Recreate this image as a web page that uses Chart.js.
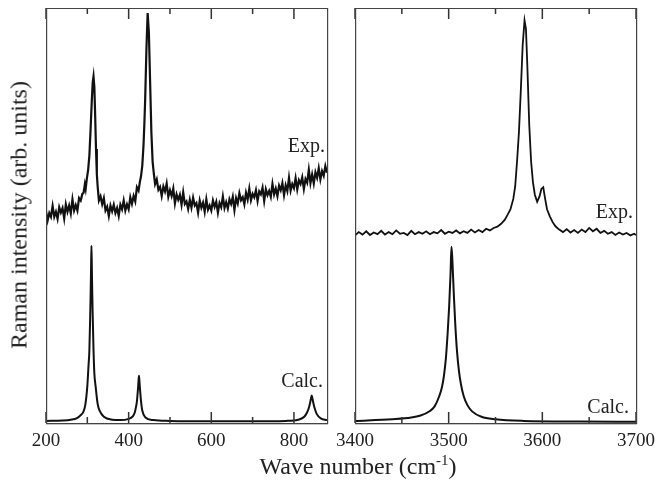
<!DOCTYPE html>
<html>
<head>
<meta charset="utf-8">
<script src="https://cdn.jsdelivr.net/npm/chart.js@4"></script>
<style>
  body { margin: 0; background: #fff; overflow: hidden; }
  #wrap { position: relative; width: 657px; height: 488px; font-family: "Liberation Serif", serif; color: #222; }
  #lowCanvas { position: absolute; left: 0; top: 0; }
  #highCanvas { position: absolute; left: 335px; top: 0; }
  #ytitle { position: absolute; left: 19px; top: 215px; transform: translate(-50%, -50%) rotate(-90deg); white-space: nowrap; font-size: 24px; }
  #xtitle { position: absolute; left: 358px; top: 466px; transform: translate(-50%, -50%); white-space: nowrap; font-size: 24px; }
  #xtitle sup { font-size: 15px; vertical-align: 9px; line-height: 0; }
</style>
</head>
<body>
<div id="wrap">
  <canvas id="lowCanvas" width="335" height="488"></canvas>
  <canvas id="highCanvas" width="322" height="488"></canvas>
  <div id="ytitle">Raman intensity (arb. units)</div>
  <div id="xtitle">Wave number (cm<sup>-1</sup>)</div>
</div>
<script>
// low-frequency panel
const lowMajorTicks = [200, 400, 600, 800];
const lowMinorTicks = [300, 500, 700];

const expLowWn = [
  200, 204, 208, 212, 216, 220, 224, 228, 232, 236, 240, 244, 248, 252, 256, 260, 264, 268, 272, 276, 280, 284, 288,
  291, 294, 296, 299, 302, 305, 308, 311, 313, 315, 317, 319, 321, 323, 325,
  328, 332, 336, 340, 344, 348, 352, 356, 360, 364, 368, 372, 376, 380, 384, 388, 392, 396, 400, 404, 408, 412, 416, 420, 424,
  427, 430, 433, 436, 438, 440, 443, 446, 449, 452, 455, 458, 461, 464,
  468, 472, 476, 480, 484, 488, 492, 496, 500, 504, 508, 512, 516, 520, 524, 528, 532, 536, 540, 544, 548, 552, 556, 560,
  564, 568, 572, 576, 580, 584, 588, 592, 596, 600, 604, 608, 612, 616, 620, 624, 628, 632, 636, 640, 644, 648, 652, 656,
  660, 664, 668, 672, 676, 680, 684, 688, 692, 696, 700, 704, 708, 712, 716, 720, 724, 728, 732, 736, 740, 744, 748, 752,
  756, 760, 764, 768, 772, 776, 780, 784, 788, 792, 796, 800, 804, 808, 812, 816, 820, 824, 828, 832, 836, 840, 844, 848,
  852, 856, 860, 864, 868, 872, 876, 880];
const expLowInt = [
  51.0, 48.8, 50.6, 49.7, 52.3, 49.7, 50.9, 49.2, 52.0, 50.7, 51.8, 49.3, 52.7, 50.9, 52.4, 50.5, 53.9, 51.2, 52.5, 51.2, 54.2, 53.6, 55.2,
  55.5, 57.5, 56.4, 59.0, 61.0, 64.5, 71.0, 78.0, 82.0, 83.5, 81.0, 74.0, 66.0, 60.0, 57.0,
  53.6, 54.6, 52.7, 54.2, 51.2, 52.1, 49.9, 52.4, 51.0, 52.6, 50.6, 51.8, 49.9, 52.6, 51.5, 53.6, 51.2, 52.7, 51.5, 54.4, 52.8, 54.7, 53.4, 56.8, 56.0,
  58.0, 59.5, 62.0, 67.0, 72.0, 78.0, 90.0, 98.8, 94.0, 82.0, 70.0, 63.0, 60.0, 57.6,
  58.7, 56.2, 56.9, 54.7, 57.0, 55.8, 57.7, 54.5, 56.1, 54.7, 56.5, 52.9, 55.1, 53.8, 55.0, 52.6, 55.6, 52.8, 53.4, 51.6, 53.8, 51.9, 54.3, 52.4,
  53.0, 50.7, 53.6, 51.9, 53.1, 50.9, 53.9, 51.4, 52.4, 51.2, 53.6, 52.1, 53.3, 50.7, 53.0, 52.0, 54.6, 51.8, 53.2, 51.7, 53.9, 52.8, 54.5, 51.3,
  54.2, 52.9, 55.4, 53.7, 54.4, 52.7, 55.5, 53.9, 56.5, 53.7, 55.2, 54.4, 56.1, 53.5, 55.8, 55.1, 56.7, 53.5, 56.3, 54.9, 55.9, 54.5, 57.6, 55.1,
  56.5, 54.7, 57.2, 56.1, 57.8, 54.9, 57.3, 55.9, 59.1, 56.0, 57.6, 56.6, 59.0, 56.3, 58.5, 57.6, 59.2, 56.4, 58.8, 57.9, 61.0, 57.8, 59.9, 57.7,
  60.4, 59.1, 61.4, 58.7, 60.7, 59.6, 61.9, 60.3];

const calcLowWn = [200, 240, 260, 275, 285, 290, 295, 300, 303, 305, 307, 308, 309, 310, 311, 312, 313, 315, 317, 320, 325, 330, 340, 360, 380,
  400, 410, 415, 418, 420, 422, 423, 424, 425, 426, 427, 428, 430, 433, 440, 460, 500, 600, 700, 780, 810, 825, 832, 836, 839, 841, 843,
  845, 847, 850, 855, 865, 880];
const calcLowInt = [0.5, 0.6, 0.8, 1.2, 2.0, 2.6, 4.3, 8.9, 14.0, 17.6, 26.0, 31.0, 37.0, 42.7, 37.0, 31.0, 26.0, 17.6, 12.0, 8.9, 4.6, 2.9, 1.5, 0.8, 0.7,
  1.0, 1.6, 2.6, 4.0, 5.2, 7.5, 8.8, 10.3, 11.4, 10.3, 8.8, 7.5, 5.2, 3.0, 1.4, 0.7, 0.5, 0.4, 0.4, 0.5, 0.8, 1.5, 2.6, 3.6, 4.8, 5.8, 6.6,
  5.8, 4.8, 3.6, 2.2, 1.1, 0.7];

// O-H stretch panel
const highMajorTicks = [3400, 3500, 3600, 3700];
const highMinorTicks = [3450, 3550, 3650];

const expHighWn = [3400, 3404, 3408, 3412, 3416, 3420, 3424, 3428, 3432, 3436, 3440, 3444, 3448, 3452, 3456, 3460, 3464, 3468, 3472, 3476,
  3480, 3484, 3488, 3492, 3496, 3500, 3504, 3508, 3512, 3516, 3520, 3524, 3528, 3532, 3536, 3540, 3544, 3548, 3552, 3556, 3560, 3563,
  3566, 3569, 3571, 3573, 3575, 3577, 3579, 3581, 3582.5, 3584, 3586, 3588, 3590, 3592, 3594.5, 3597, 3599, 3601, 3603, 3605, 3608,
  3611, 3614, 3618, 3622, 3626, 3630, 3634, 3638, 3642, 3646, 3650, 3654, 3658, 3662, 3666, 3670, 3674, 3678, 3682, 3686, 3690, 3694,
  3698, 3700];
const expHighInt = [45.2, 46.0, 45.4, 46.2, 45.3, 45.9, 45.5, 46.3, 45.4, 46.0, 45.5, 46.4, 45.6, 45.8, 45.3, 46.3, 45.5, 46.0, 45.6, 46.2,
  45.5, 46.0, 45.7, 46.5, 45.6, 46.1, 45.8, 46.4, 45.7, 46.2, 45.8, 46.6, 45.9, 46.5, 46.0, 46.8, 46.4, 47.0, 47.3, 48.0, 49.0, 50.2,
  51.5, 54.0, 57.0, 63.0, 70.0, 80.0, 91.0, 97.0, 95.0, 86.0, 72.0, 63.0, 58.0, 55.0, 53.3, 54.6, 56.4, 56.8, 54.0, 51.5, 49.8,
  48.4, 47.4, 46.6, 46.0, 46.7, 45.9, 46.5, 45.8, 46.6, 46.0, 47.0, 46.2, 46.8, 45.8, 46.3, 45.6, 46.0, 45.3, 45.9, 45.4, 45.8, 45.2,
  45.6, 45.3];

const calcHighWn = [3400, 3440, 3460, 3470, 3480, 3485, 3490, 3493, 3495, 3497, 3499, 3500.5, 3502, 3503, 3504, 3505.5, 3507, 3509, 3511,
  3513, 3516, 3520, 3525, 3535, 3550, 3580, 3640, 3700];
const calcHighInt = [0.5, 0.9, 1.3, 1.8, 2.9, 4.0, 6.5, 8.8, 11.5, 15.5, 22.0, 28.0, 36.0, 42.5, 39.0, 31.0, 24.0, 17.0, 12.5,
  9.5, 6.5, 4.3, 2.8, 1.5, 0.9, 0.5, 0.35, 0.3];

const SERIF = '"Liberation Serif", "Times New Roman", serif';

// frame, inward ticks on top and bottom, and the Exp./Calc. tags
function framePlugin(cfg) {
  return {
    id: 'frame',
    afterDraw(chart) {
      const { ctx, chartArea: a, scales } = chart;
      const xs = scales.x;
      const left = Math.round(a.left), right = Math.round(a.right);
      const top = Math.round(a.top), bottom = Math.round(a.bottom);
      ctx.save();
      ctx.fillStyle = '#333';
      cfg.major.forEach(v => {
        const px = xs.getPixelForValue(v);
        ctx.fillRect(px - 0.75, bottom - 11, 1.5, 11);
        ctx.fillRect(px - 0.75, top, 1.5, 11);
      });
      cfg.minor.forEach(v => {
        const px = xs.getPixelForValue(v);
        ctx.fillRect(px - 0.75, bottom - 6, 1.5, 6);
        ctx.fillRect(px - 0.75, top, 1.5, 6);
      });
      ctx.fillStyle = '#444';
      ctx.fillRect(left, top, right - left + 1, 1);
      ctx.fillRect(left, bottom, right - left + 1, 1.3);
      ctx.fillRect(left, top, 1.2, bottom - top + 1);
      ctx.fillRect(right, top, 1.2, bottom - top + 1);

      ctx.fillStyle = '#222';
      ctx.font = '20px ' + SERIF;
      ctx.textAlign = 'right';
      ctx.textBaseline = 'alphabetic';
      cfg.tags.forEach(t => ctx.fillText(t.text, a.right - t.dx, scales.y.getPixelForValue(t.at)));
      ctx.restore();
    }
  };
}

function makePanel(id, cfg) {
  return new Chart(document.getElementById(id), {
    type: 'line',
    data: {
      datasets: [
        {
          data: cfg.expWn.map((w, i) => ({ x: w, y: cfg.expInt[i] })),
          borderColor: '#111',
          borderWidth: cfg.expWidth,
          pointRadius: 0,
          tension: 0,
        },
        {
          data: cfg.calcWn.map((w, i) => ({ x: w, y: cfg.calcInt[i] })),
          borderColor: '#111',
          borderWidth: 2,
          pointRadius: 0,
          cubicInterpolationMode: 'monotone',
        },
      ],
    },
    options: {
      responsive: false,
      animation: false,
      events: [],
      layout: { padding: cfg.padding },
      plugins: {
        legend: { display: false },
        tooltip: { enabled: false },
      },
      scales: {
        x: {
          type: 'linear',
          min: cfg.min,
          max: cfg.max,
          grid: { display: false, drawTicks: false },
          border: { display: false },
          afterBuildTicks: (s) => { s.ticks = cfg.major.map(v => ({ value: v })); },
          afterFit: (s) => { s.height = 65; s.paddingLeft = 0; s.paddingRight = 0; },
          ticks: {
            padding: 7,
            maxRotation: 0,
            color: '#222',
            font: { family: SERIF, size: 19 },
            callback: (v) => String(v),
          },
        },
        y: { display: false, min: 0, max: 100 },
      },
    },
    plugins: [framePlugin(cfg)],
  });
}

makePanel('lowCanvas', {
  expWn: expLowWn, expInt: expLowInt, calcWn: calcLowWn, calcInt: calcLowInt, expWidth: 2.2,
  min: 200, max: 880, major: lowMajorTicks, minor: lowMinorTicks,
  padding: { left: 46, right: 8, top: 8, bottom: 0 },
  tags: [{ text: 'Exp.', at: 65.3, dx: 2 }, { text: 'Calc.', at: 8.7, dx: 4 }],
});

makePanel('highCanvas', {
  expWn: expHighWn, expInt: expHighInt, calcWn: calcHighWn, calcInt: calcHighInt, expWidth: 1.8,
  min: 3400, max: 3700, major: highMajorTicks, minor: highMinorTicks,
  padding: { left: 20, right: 21, top: 8, bottom: 0 },
  tags: [{ text: 'Exp.', at: 49.4, dx: 3 }, { text: 'Calc.', at: 2.4, dx: 7 }],
});
</script>
</body>
</html>
